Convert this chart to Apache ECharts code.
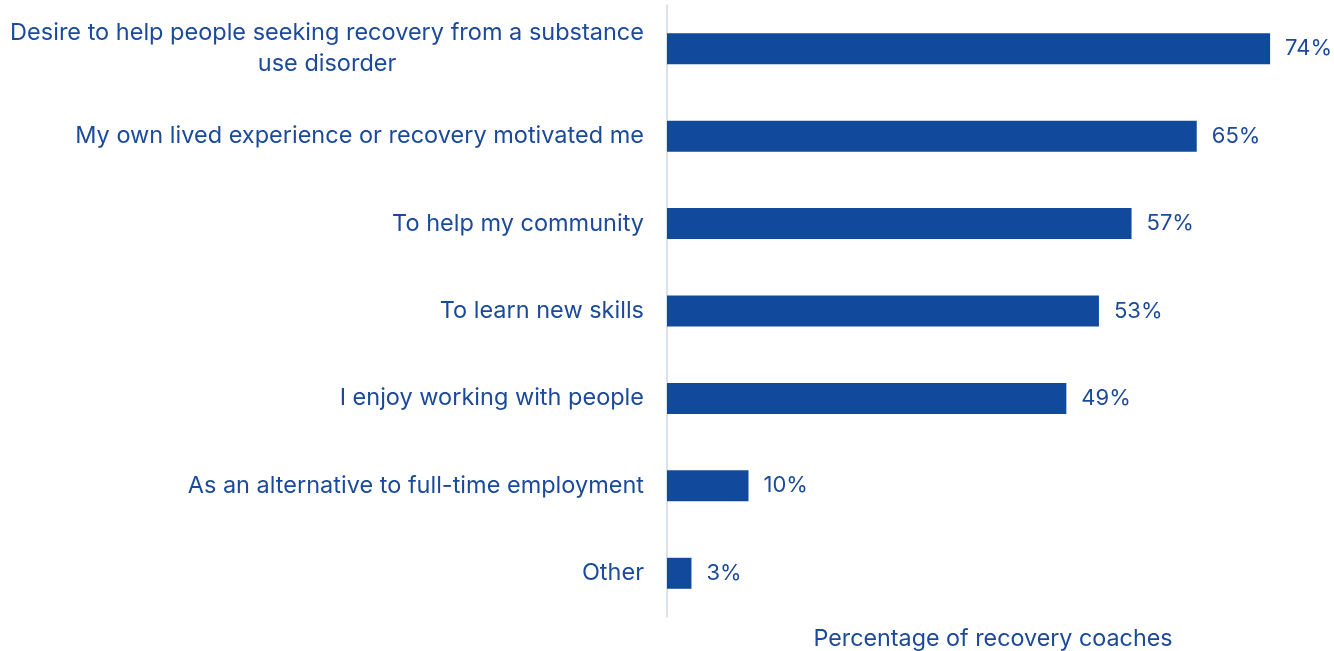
<!DOCTYPE html>
<html>
<head>
<meta charset="utf-8">
<style>
  html, body { margin: 0; padding: 0; background: #ffffff; }
  #chart { width: 1334px; height: 651px; }
</style>
<script src="https://cdn.jsdelivr.net/npm/echarts@6/dist/echarts.min.js"></script>
</head>
<body>
<div id="chart"></div>
<script>
// Reasons given by recovery coaches for taking on the role
const categories = [
  'Desire to help people seeking recovery from a substance\nuse disorder',
  'My own lived experience or recovery motivated me',
  'To help my community',
  'To learn new skills',
  'I enjoy working with people',
  'As an alternative to full-time employment',
  'Other'
];
const shares = [74, 65, 57, 53, 49, 10, 3];
const axisTitle = 'Percentage of recovery coaches';

const textColor = '#1b4a9b';
const barColor = '#114a9c';
const fontFamily = 'Inter, "Noto Sans", sans-serif';

const chart = echarts.init(document.getElementById('chart'), null, { renderer: 'canvas' });

chart.setOption({
  animation: false,
  backgroundColor: '#ffffff',
  grid: { left: 667, right: 15, top: 5, bottom: 34, containLabel: false, outerBoundsMode: 'none' },
  xAxis: {
    type: 'value',
    min: 0,
    max: 80,
    axisLine: { show: false },
    axisTick: { show: false },
    axisLabel: { show: false },
    splitLine: { show: false },
    name: axisTitle,
    nameLocation: 'middle',
    nameGap: 10,
    nameTextStyle: { color: textColor, fontSize: 23.3, fontFamily: fontFamily }
  },
  yAxis: {
    type: 'category',
    inverse: true,
    data: categories,
    axisLine: { show: true, lineStyle: { color: '#cfd9ea', width: 1.5 } },
    axisTick: { show: false },
    axisLabel: {
      margin: 23,
      color: textColor,
      fontSize: 23.5,
      fontFamily: fontFamily,
      formatter: function (v) {
        return v.split('\n').map(function (s) { return '{c|' + s + '}'; }).join('\n');
      },
      rich: {
        c: { align: 'center', color: textColor, fontSize: 23.5, fontFamily: fontFamily, lineHeight: 31 }
      }
    }
  },
  series: [{
    type: 'bar',
    data: shares,
    barWidth: 31,
    itemStyle: { color: barColor },
    label: {
      show: true,
      position: 'right',
      distance: 15,
      formatter: '{c}%',
      color: textColor,
      fontSize: 22,
      fontFamily: fontFamily
    }
  }]
});
</script>
</body>
</html>
